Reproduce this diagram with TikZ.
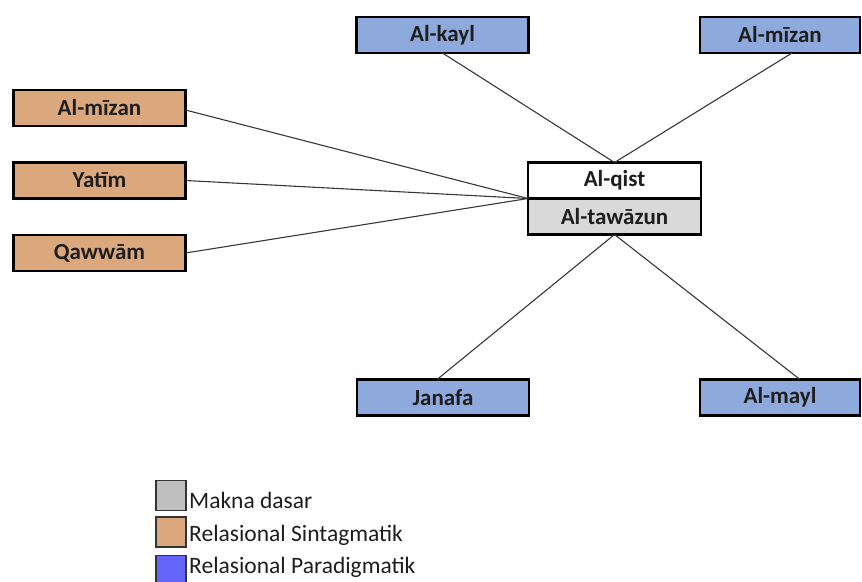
\documentclass[tikz,border=0pt]{standalone}
\usepackage{fontspec}
\setmainfont{Carlito}
\definecolor{bluefill}{RGB}{142,169,219}
\definecolor{tanfill}{RGB}{218,168,124}
\definecolor{grayfill}{RGB}{217,217,217}
\definecolor{leggray}{RGB}{191,191,191}
\definecolor{legblue}{RGB}{102,102,255}
\definecolor{linecol}{RGB}{55,55,55}
\definecolor{txtcol}{RGB}{30,30,30}
\tikzset{
  box/.style={draw=black, line width=2.6pt, minimum width=172pt, minimum height=36pt,
    inner sep=0pt, outer sep=0pt, font=\fontsize{23}{26}\selectfont\bfseries, text=txtcol},
  bluebox/.style={box, fill=bluefill},
  tanbox/.style={box, fill=tanfill},
  conn/.style={draw=linecol, line width=1.1pt},
  legsq/.style={draw=black!80, line width=1.6pt, minimum width=30pt, minimum height=30pt,
    inner sep=0pt, outer sep=0pt},
  legtxt/.style={anchor=base west, inner sep=0pt, font=\fontsize{23.5}{26}\selectfont, text=txtcol}
}
\begin{document}
\begin{tikzpicture}[x=1pt,y=-1pt]
\useasboundingbox (0,0) rectangle (862,581);
% top
\node[bluebox] (kayl) at (442.5,35) {Al-kayl};
\node[bluebox, minimum width=160pt] (mizanR) at (780,35) {Al-mīzan};
% left
\node[tanbox] (mizanL) at (99.5,108) {Al-mīzan};
\node[tanbox] (yatim) at (99.5,180.5) {Yatīm};
\node[tanbox] (qawwam) at (99.5,253) {Qawwām};
% center
\node[box, fill=white, minimum width=173pt] (qist) at (614.5,180.5) {Al-qist};
\node[box, fill=grayfill, minimum width=173pt, anchor=north] (tawazun) at (qist.south) {Al-tawāzun};
% bottom
\node[bluebox] (janafa) at (443,397.5) {Janafa};
\node[bluebox, minimum width=160pt] (mayl) at (780,397.5) {Al-mayl};
% connectors
\coordinate (hub) at (qist.south west);
\draw[conn] ([yshift=-2pt]mizanL.east) -- (hub);
\draw[conn] (yatim.east) -- (hub);
\draw[conn] (qawwam.east) -- (hub);
\draw[conn] (kayl.south) -- (qist.north);
\draw[conn] ([xshift=12pt]mizanR.south) -- (qist.north);
\draw[conn] (tawazun.south) -- ([xshift=-6pt]janafa.north);
\draw[conn] (tawazun.south) -- ([xshift=20pt]mayl.north);
% legend
\node[legsq, fill=leggray] (l1) at (171,495.5) {};
\node[legsq, fill=tanfill] (l2) at (171,532) {};
\node[legsq, fill=legblue] (l3) at (171,570.5) {};
\node[legtxt] (t1) at (189,508) {Makna dasar};
\node[legtxt] (t2) at (189,541) {Relasional Sintagmatik};
\node[legtxt] (t3) at (189,573) {Relasional Paradigmatik};
\end{tikzpicture}
\end{document}
